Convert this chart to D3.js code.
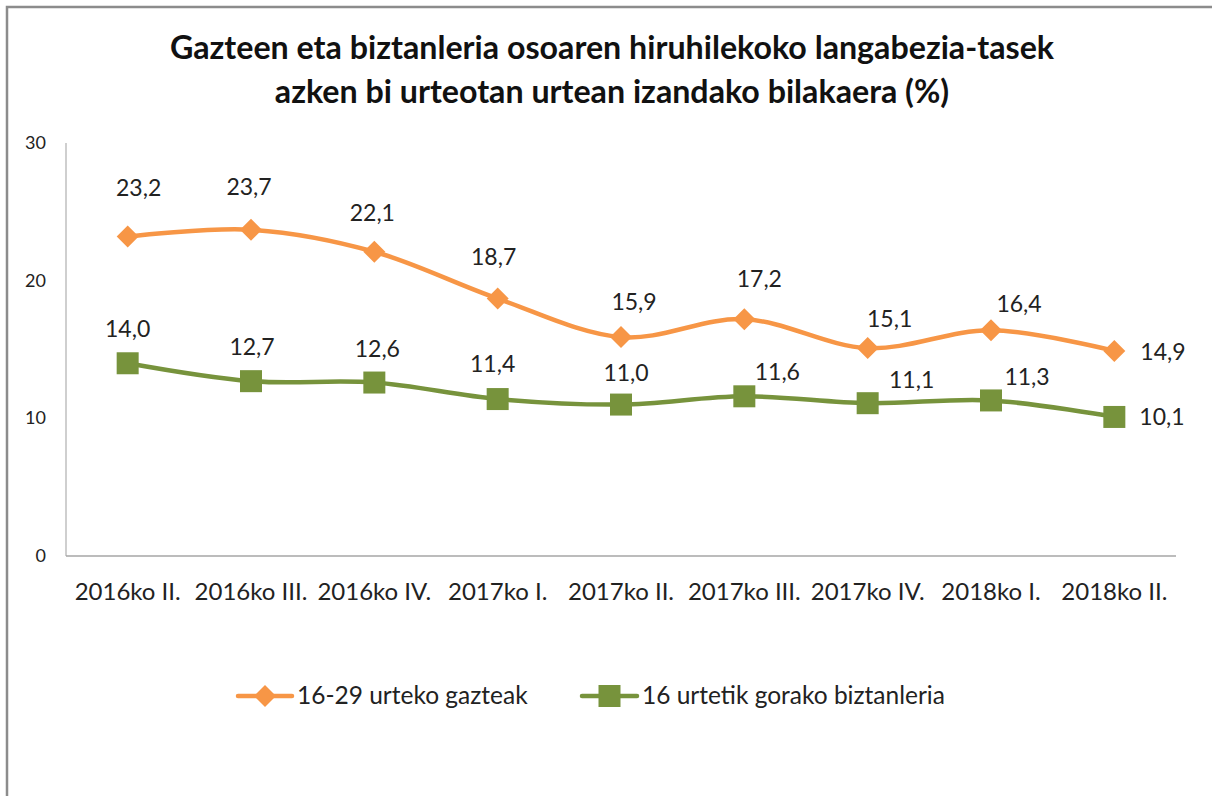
<!DOCTYPE html>
<html>
<head>
<meta charset="utf-8">
<script src="https://cdn.jsdelivr.net/npm/d3@7"></script>
<style>
  html, body { margin: 0; padding: 0; background: #fff; }
  svg { display: block; font-family: Lato, "Open Sans", sans-serif; }
</style>
</head>
<body>
<svg width="1212" height="796"></svg>
<script>
var categories = ["2016ko II.", "2016ko III.", "2016ko IV.", "2017ko I.", "2017ko II.",
                  "2017ko III.", "2017ko IV.", "2018ko I.", "2018ko II."];
var gazteak = [23.2, 23.7, 22.1, 18.7, 15.9, 17.2, 15.1, 16.4, 14.9];
var biztanleria = [14.0, 12.7, 12.6, 11.4, 11.0, 11.6, 11.1, 11.3, 10.1];
var yTicks = [0, 10, 20, 30];
var seriesNames = ["16-29 urteko gazteak", "16 urtetik gorako biztanleria"];
var titleLines = ["Gazteen eta biztanleria osoaren hiruhilekoko langabezia-tasek",
                  "azken bi urteotan urtean izandako bilakaera (%)"];

var orange = "#f79646", green = "#77933c";

var svg = d3.select("svg");

// outer chart frame (right/bottom edges fall outside the picture)
svg.append("rect")
    .attr("x", 7).attr("y", 7)
    .attr("width", 1230).attr("height", 820)
    .attr("fill", "none")
    .attr("stroke", "#8c8c8c")
    .attr("stroke-width", 2.5);

// title
svg.append("g").selectAll("text")
    .data(titleLines)
  .enter().append("text")
    .attr("x", 612)
    .attr("y", function(d, i) { return 59 + i * 44; })
    .attr("text-anchor", "middle")
    .style("font-size", "32.2px")
    .style("font-weight", "bold")
    .style("fill", "#111")
    .text(function(d) { return d; });

var x = d3.scaleBand()
    .domain(categories)
    .range([66, 1176]);

var y = d3.scaleLinear()
    .domain([0, 30])
    .range([556, 143]);

// axes
svg.append("line")
    .attr("x1", 66).attr("x2", 66)
    .attr("y1", y(30)).attr("y2", y(0))
    .attr("stroke", "#bfbfbf").attr("stroke-width", 1.5);
svg.append("line")
    .attr("x1", 66).attr("x2", 1176)
    .attr("y1", y(0)).attr("y2", y(0))
    .attr("stroke", "#a6a6a6").attr("stroke-width", 1.5);

svg.append("g").selectAll("text")
    .data(yTicks)
  .enter().append("text")
    .attr("x", 46)
    .attr("y", function(d) { return y(d) + 6; })
    .attr("text-anchor", "end")
    .style("font-size", "18px")
    .style("fill", "#222")
    .text(function(d) { return d; });

svg.append("g").selectAll("text")
    .data(categories)
  .enter().append("text")
    .attr("x", function(d) { return x(d) + x.bandwidth() / 2; })
    .attr("y", 600)
    .attr("text-anchor", "middle")
    .style("font-size", "24px")
    .style("fill", "#222")
    .text(function(d) { return d; });

var cx = function(d, i) { return x(categories[i]) + x.bandwidth() / 2; };
var line = d3.line()
    .x(cx)
    .y(function(d) { return y(d); })
    .curve(d3.curveCatmullRom.alpha(0));

var fmt = function(v) { return v.toFixed(1).replace(".", ","); };

// data label nudges as placed in the original (last labels sit to the right)
var orangeDx = [11, -2, -2, -4, 13, 15, 22, 28, 26];
var orangeDy = [-41, -35, -31, -34, -27, -32, -21, -18, 9];
var greenDx = [0, 1, 3, -5, 5, 33, 44, 36, 25];
var greenDy = [-26, -26, -26, -27, -24, -16, -15, -15, 8];

function drawSeries(values, color, shape, dx, dy) {
  var g = svg.append("g");
  g.append("path")
      .datum(values)
      .attr("d", line)
      .attr("fill", "none")
      .attr("stroke", color)
      .attr("stroke-width", 4.5)
      .attr("stroke-linecap", "round");
  g.selectAll("path.mark")
      .data(values)
    .enter().append("path")
      .attr("class", "mark")
      .attr("transform", function(d, i) { return "translate(" + cx(d, i) + "," + y(d) + ")"; })
      .attr("d", shape)
      .attr("fill", color);
  g.selectAll("text")
      .data(values)
    .enter().append("text")
      .attr("x", function(d, i) { return cx(d, i) + dx[i]; })
      .attr("y", function(d, i) { return y(d) + dy[i]; })
      .attr("text-anchor", function(d, i) { return i == values.length - 1 ? "start" : "middle"; })
      .style("font-size", "23px")
      .style("fill", "#222")
      .text(fmt);
}

var diamond = "M0,-11L11,0L0,11L-11,0Z";
var square = "M-11,-11H11V11H-11Z";

drawSeries(gazteak, orange, diamond, orangeDx, orangeDy);
drawSeries(biztanleria, green, square, greenDx, greenDy);

// legend
var legend = svg.append("g");
var items = [
  { name: seriesNames[0], color: orange, shape: diamond, x0: 238, x1: 292 },
  { name: seriesNames[1], color: green, shape: square, x0: 582, x1: 637 }
];
items.forEach(function(it) {
  legend.append("line")
      .attr("x1", it.x0).attr("x2", it.x1)
      .attr("y1", 696).attr("y2", 696)
      .attr("stroke", it.color).attr("stroke-width", 4.5)
      .attr("stroke-linecap", "round");
  legend.append("path")
      .attr("transform", "translate(" + (it.x0 + it.x1) / 2 + ",696)")
      .attr("d", it.shape)
      .attr("fill", it.color);
  legend.append("text")
      .attr("x", it.x1 + 5)
      .attr("y", 704)
      .style("font-size", "24.5px")
      .style("fill", "#222")
      .text(it.name);
});
</script>
</body>
</html>
